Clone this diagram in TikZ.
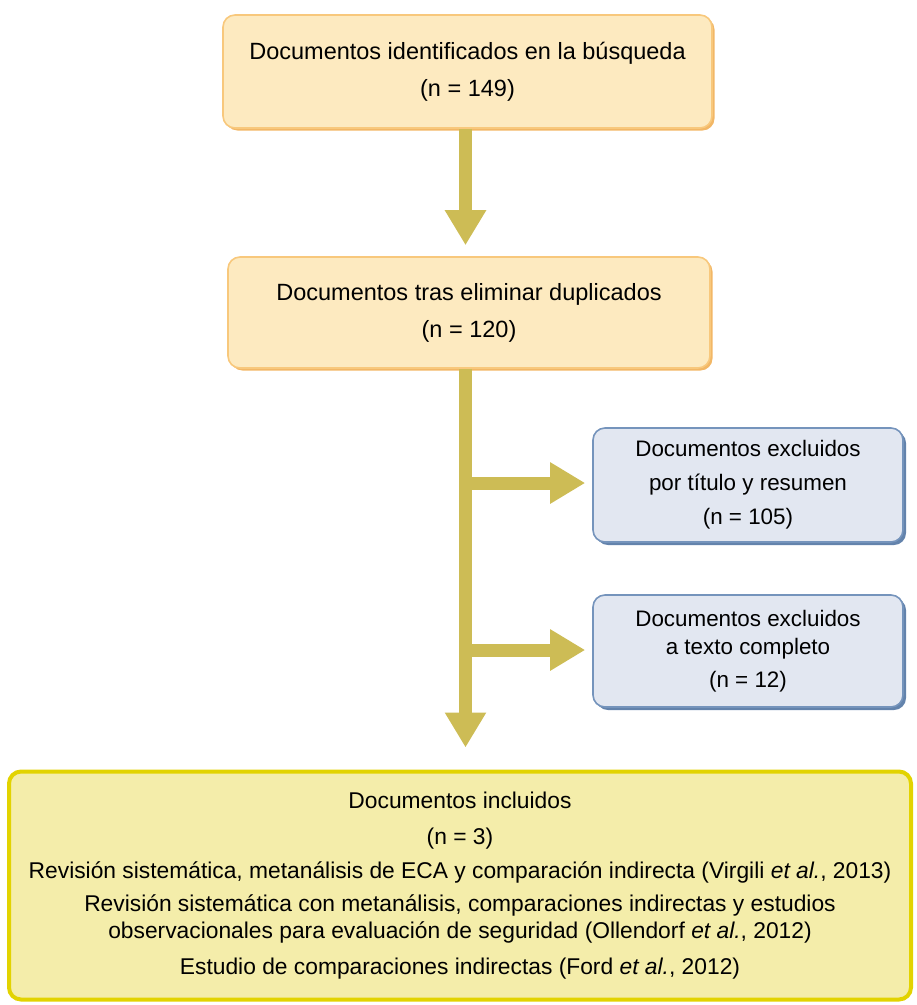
\documentclass[tikz,border=0pt]{standalone}
\usepackage{fontspec}
\setmainfont{Liberation Sans}
\usetikzlibrary{arrows.meta,shadows}
\definecolor{peachfill}{HTML}{FDEAC0}
\definecolor{peachline}{HTML}{F8C87C}
\definecolor{peachshadow}{HTML}{F2B766}
\definecolor{bluefill}{HTML}{E2E7F1}
\definecolor{blueline}{HTML}{7594BC}
\definecolor{blueshadow}{HTML}{6383AC}
\definecolor{lemonfill}{HTML}{F4EDAA}
\definecolor{lemonline}{HTML}{E2D300}
\definecolor{olivearrow}{HTML}{CDBC55}
\tikzset{
  flowbox/.style={rounded corners=12pt, align=center, inner sep=0pt, line width=1.6pt},
  stagebox/.style={flowbox, fill=peachfill, draw=peachline,
    drop shadow={shadow xshift=2.5pt, shadow yshift=-2.5pt, fill=peachshadow, opacity=1},
    font=\fontsize{23.5}{37}\selectfont},
  outbox/.style={flowbox, fill=bluefill, draw=blueline,
    drop shadow={shadow xshift=3pt, shadow yshift=-3pt, fill=blueshadow, opacity=1},
    font=\fontsize{22.4}{34}\selectfont},
  finalbox/.style={flowbox, fill=lemonfill, draw=lemonline, line width=4pt,
    font=\fontsize{22.8}{27}\selectfont},
  flowarrow/.style={draw=olivearrow, line width=13pt,
    -{Triangle[width=39pt,length=35pt,fill=olivearrow]}}
}
\begin{document}
\begin{tikzpicture}[x=1pt,y=-1pt]
\useasboundingbox (0,0) rectangle (917,1005);
\node[stagebox, minimum width=489pt, minimum height=113pt] (ident) at (467.5,71.5)
  {Documentos identificados en la búsqueda\\(n = 149)};
\node[stagebox, minimum width=482pt, minimum height=111pt] (dedup) at (469,312.5)
  {Documentos tras eliminar duplicados\\(n = 120)};
\node[outbox, minimum width=310pt, minimum height=114pt] (excl1) at (748,485)
  {Documentos excluidos\\por título y resumen\\(n = 105)};
\node[outbox, minimum width=310pt, minimum height=112pt, font=\fontsize{22.4}{28}\selectfont] (excl2) at (748,651)
  {Documentos excluidos\\a texto completo\\[5pt](n = 12)};
\node[finalbox, minimum width=902pt, minimum height=228pt] (incl) at (460,885.5)
  {Documentos incluidos\\[9pt]
   (n = 3)\\[7pt]
   Revisión sistemática, metanálisis de ECA y comparación indirecta (Virgili \textit{et al.}, 2013)\\[6pt]
   Revisión sistemática con metanálisis, comparaciones indirectas y estudios\\
   observacionales para evaluación de seguridad (Ollendorf \textit{et al.}, 2012)\\[9pt]
   Estudio de comparaciones indirectas (Ford \textit{et al.}, 2012)};
% branch points on the main trunk
\coordinate (fork1) at (465.5,483);
\coordinate (fork2) at (465.5,650);
\draw[flowarrow, shorten >=11pt] (ident.south -| fork1) -- (dedup.north -| fork1);
\draw[flowarrow, shorten >=22pt] (dedup.south -| fork1) -- (incl.north -| fork1);
\draw[flowarrow, shorten >=7pt] (fork1) -- (excl1.west |- fork1);
\draw[flowarrow, shorten >=7pt] (fork2) -- (excl2.west |- fork2);
\end{tikzpicture}
\end{document}
